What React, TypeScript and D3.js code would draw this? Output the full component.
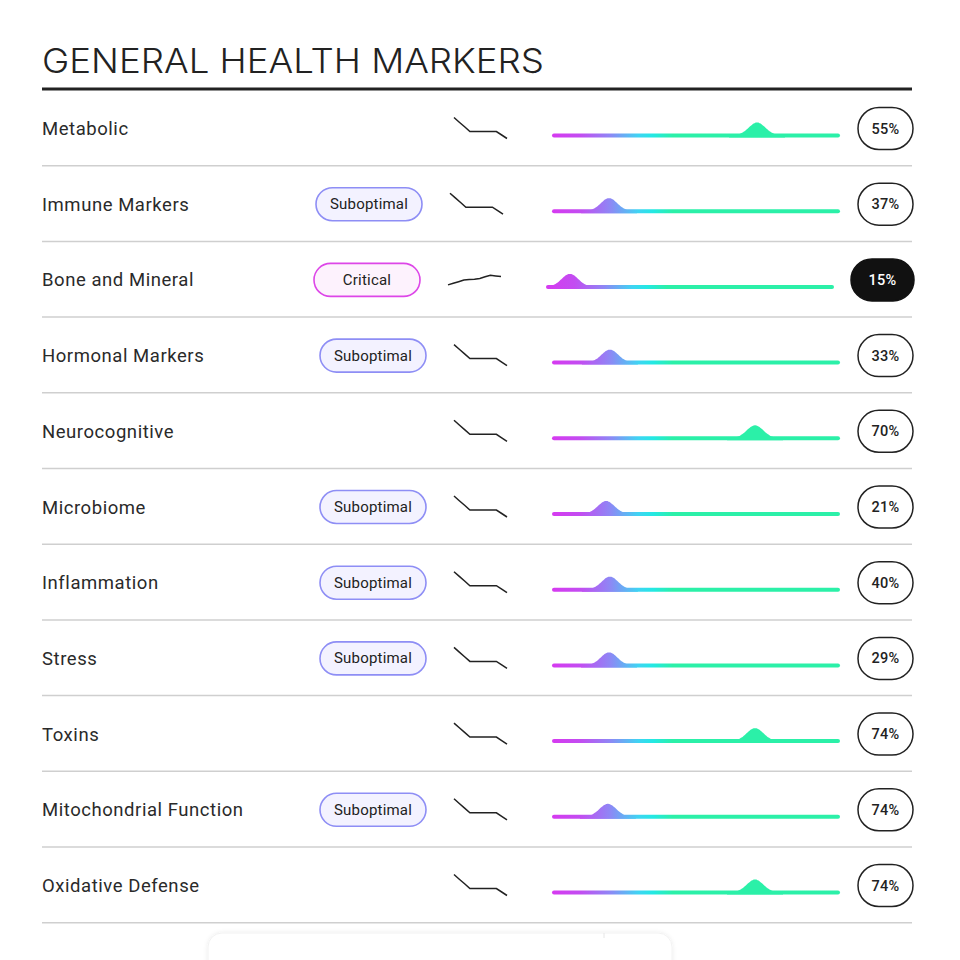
import React from "react";
import * as d3 from "d3";

const categories = [
  "Metabolic",
  "Immune Markers",
  "Bone and Mineral",
  "Hormonal Markers",
  "Neurocognitive",
  "Microbiome",
  "Inflammation",
  "Stress",
  "Toxins",
  "Mitochondrial Function",
  "Oxidative Defense",
];
const statuses = ["", "Suboptimal", "Critical", "Suboptimal", "", "Suboptimal", "Suboptimal", "Suboptimal", "", "Suboptimal", ""];
const scores = [55, 37, 15, 33, 70, 21, 40, 29, 74, 74, 74];
// position of the distribution peak along the range bar (0..1)
const peaks = [0.712, 0.198, 0.083, 0.201, 0.705, 0.188, 0.201, 0.198, 0.705, 0.194, 0.705];
const trendDown = [21, 16.3, 11.7, 7, 7, 7, 7, 7, 7, 3.5, 0];
const trendUp = [5, 6.6, 8.2, 9.9, 10.3, 10.6, 11.5, 13.1, 14.7, 14, 13.3];
const trends = categories.map((_, i) => (i === 2 ? trendUp : trendDown));
const title = "GENERAL HEALTH MARKERS";

const W = 960;
const H = 960;
const left = 42;
const right = 912;
const top = 90;
const rowH = 75.7;
const font = "Roboto, 'Noto Sans', sans-serif";

const gradStops = [
  [0, "#d63af0"],
  [0.1, "#c24df1"],
  [0.2, "#8f86f5"],
  [0.3, "#3fd4f3"],
  [0.35, "#24e8e4"],
  [0.42, "#2bf0a8"],
  [1, "#2bf0a8"],
];

export default function App() {
  const y = d3
    .scaleBand<number>()
    .domain(categories.map((_, i) => i))
    .range([top, top + rowH * categories.length]);

  const sparkX = d3.scaleLinear().domain([0, trendDown.length - 1]).range([0, 53]);
  const sparkY = d3.scaleLinear().domain([0, 21]).range([10, -11]);

  const bumpOffsets = d3.range(-28, 28.5, 1);

  return (
    <svg
      width={W}
      height={H}
      viewBox={`0 0 ${W} ${H}`}
      style={{ position: "absolute", left: 0, top: 0, background: "#fff" }}
    >
      <defs>
        <filter id="shadow" x="-10%" y="-50%" width="120%" height="200%">
          <feDropShadow dx="0" dy="0" stdDeviation="2" floodColor="#000" floodOpacity="0.08" />
        </filter>
        {categories.map((_, i) => {
          const shift = i === 2 ? -6 : 0;
          return (
            <linearGradient
              key={i}
              id={`grad${i}`}
              gradientUnits="userSpaceOnUse"
              x1={552 + shift}
              x2={840 + shift}
              y1={0}
              y2={0}
            >
              {gradStops.map(([o, c], k) => (
                <stop key={k} offset={o as number} stopColor={c as string} />
              ))}
            </linearGradient>
          );
        })}
      </defs>

      <text
        x={left}
        y={73}
        fontFamily="Inter, 'Noto Sans', sans-serif"
        fontSize={34}
        fontWeight={300}
        fill="#222"
        textLength={502}
        lengthAdjust="spacingAndGlyphs"
      >
        {title}
      </text>
      <line x1={left} x2={right} y1={89} y2={89} stroke="#222" strokeWidth={3} />

      {categories.map((cat, i) => {
        const rt = y(i)!;
        const cy = rt + 38.5;
        const critical = statuses[i] === "Critical";
        const shift = critical ? -6 : i === 1 ? -4 : 0;
        const barShift = critical ? -6 : 0;
        const pillW = critical ? 63 : 55;
        const pillX = critical ? 851 : 858;
        const barX = d3.scaleLinear().domain([0, 1]).range([552 + barShift, 840 + barShift]);
        const peakX = barX(peaks[i]);
        const sparkStart = i === 2 ? 448 : i === 1 ? 450 : 454;
        const baseY = cy + 7;
        const sparkLine = d3
          .line<number>()
          .x((_, k) => sparkStart + sparkX(k))
          .y((d) => cy + sparkY(d));
        const offsets = bumpOffsets.filter((d) => peakX + d >= barX(0) + 1);
        const bumpArea = d3
          .area<number>()
          .x((d) => peakX + d)
          .y0(baseY + 2)
          .y1((d) => baseY - 13 * Math.exp(-(d * d) / (2 * 8.4 * 8.4)))
          .curve(d3.curveBasis);
        return (
          <g key={cat}>
            <text
              x={left}
              y={cy + 6.5}
              fontFamily={font}
              fontSize={18.5}
              letterSpacing={0.55}
              fill="#2a2a2a"
            >
              {cat}
            </text>
            {statuses[i] && (
              <g transform={`translate(${320 + shift},${cy - 16.5})`}>
                <rect
                  width={106}
                  height={33}
                  rx={16.5}
                  fill={critical ? "#fdf2fd" : "#f3f2ff"}
                  stroke={critical ? "#dd46e8" : "#8e8ef5"}
                  strokeWidth={1.6}
                />
                <text
                  x={53}
                  y={21.5}
                  textAnchor="middle"
                  fontFamily={font}
                  fontSize={15}
                  letterSpacing={0.2}
                  fill="#222"
                >
                  {statuses[i]}
                </text>
              </g>
            )}
            <path d={sparkLine(trends[i]) || ""} fill="none" stroke="#222" strokeWidth={1.5} />
            <line
              x1={barX(0) + 2}
              x2={barX(1) - 2}
              y1={baseY}
              y2={baseY}
              stroke={`url(#grad${i})`}
              strokeWidth={4}
              strokeLinecap="round"
            />
            <path d={bumpArea(offsets) || ""} fill={`url(#grad${i})`} />
            <rect
              x={pillX}
              y={cy - 21}
              width={pillW}
              height={42}
              rx={21}
              fill={critical ? "#111" : "#fff"}
              stroke={critical ? "#111" : "#222"}
              strokeWidth={1.5}
            />
            <text
              x={pillX + pillW / 2}
              y={cy + 5}
              textAnchor="middle"
              fontFamily={font}
              fontSize={14.5}
              fontWeight={500}
              letterSpacing={0.3}
              fill={critical ? "#fff" : "#222"}
            >
              {scores[i]}%
            </text>
            <line
              x1={left}
              x2={right}
              y1={rt + rowH}
              y2={rt + rowH}
              stroke="#cfcfcf"
              strokeWidth={1.5}
            />
          </g>
        );
      })}

      <g filter="url(#shadow)">
        <rect x={208} y={933} width={464} height={60} rx={14} fill="#fff" stroke="#f2f2f2" />
      </g>
      <line x1={604} x2={604} y1={933} y2={938} stroke="#e6e6e6" />
    </svg>
  );
}
